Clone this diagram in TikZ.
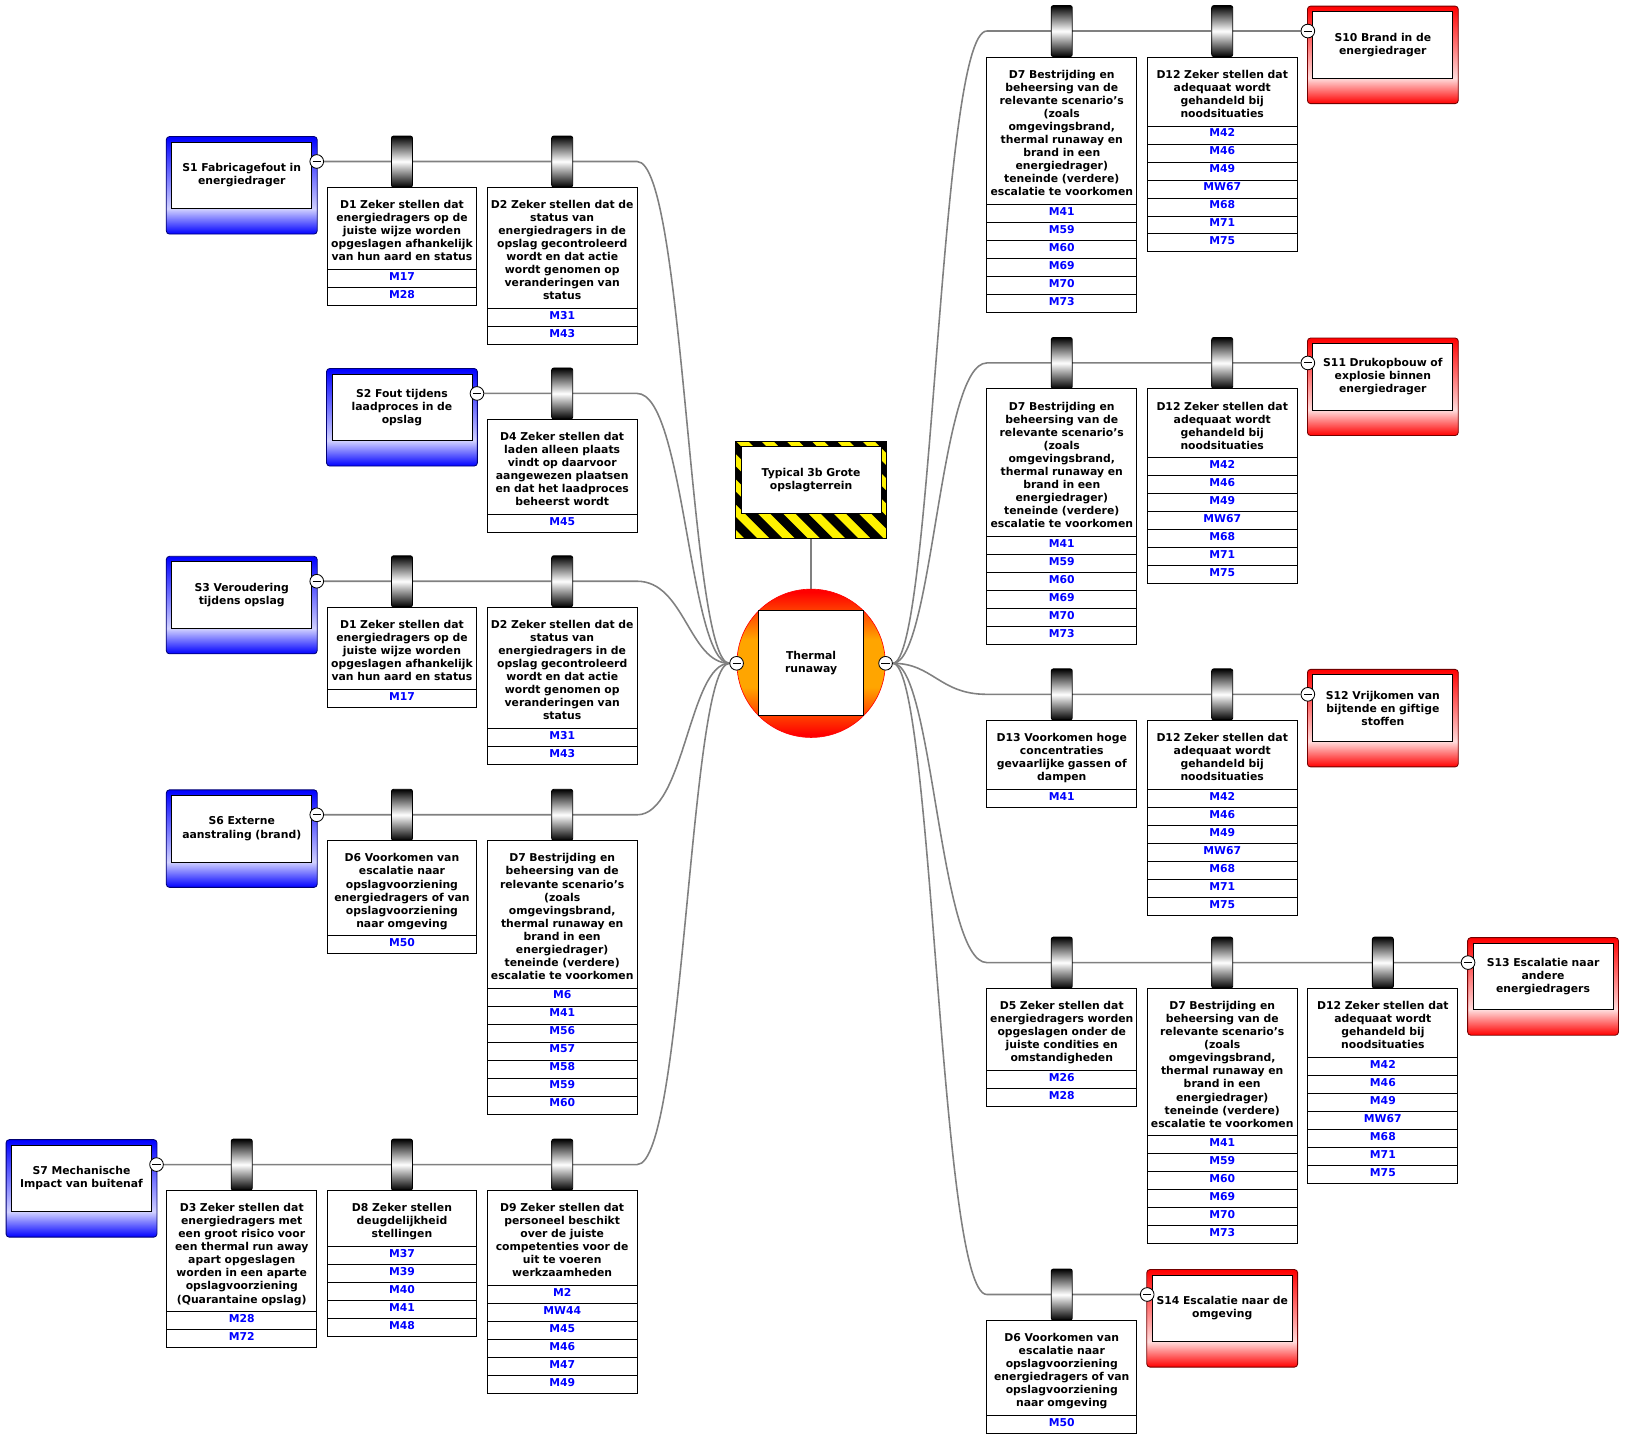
\documentclass[tikz,border=0pt]{standalone}
\usepackage{fontspec}
\setmainfont{DejaVu Sans}
\usetikzlibrary{positioning}
\usetikzlibrary{backgrounds}
\usetikzlibrary{calc}

\definecolor{evorange}{RGB}{255,165,0}
\pgfdeclareverticalshading{threatshade}{100bp}{color(0bp)=(blue); color(25bp)=(blue); color(38bp)=(blue!18); color(75bp)=(blue); color(100bp)=(blue)}
\pgfdeclareverticalshading{consshade}{100bp}{color(0bp)=(red); color(25bp)=(red); color(38bp)=(red!14); color(75bp)=(red); color(100bp)=(red)}
\pgfdeclareverticalshading{eventshade}{100bp}{color(0bp)=(red); color(26bp)=(red); color(42bp)=(evorange); color(58bp)=(evorange); color(74bp)=(red); color(100bp)=(red)}

\tikzset{
  every node/.style={font=\fontsize{10.3}{12.4}\selectfont\bfseries},
  link/.style={draw=gray, line width=1.5pt},
  minuscirc/.style={circle, draw, fill=white, line width=0.8pt, inner sep=0pt, minimum size=13pt,
    path picture={\draw[line width=0.9pt] ([xshift=2.6pt]path picture bounding box.west) -- ([xshift=-2.6pt]path picture bounding box.east);}},
  sbox/.style={draw, fill=white, line width=0.8pt, minimum width=133pt, minimum height=63.4pt,
    text width=131pt, inner sep=1pt, align=center},
  threatouter/.style={shade, shading=threatshade, draw=blue!45!black, line width=0.8pt, rounded corners=3pt},
  consouter/.style={shade, shading=consshade, draw=red!45!black, line width=0.8pt, rounded corners=3pt},
  barrier/.style={draw, fill=white, line width=0.9pt, anchor=north, text width=140.5pt, inner xsep=1pt,
    inner ysep=0pt, outer sep=0pt, align=center,
    execute at begin node={\rule{0pt}{20.1pt}}, execute at end node={\rule[-8.3pt]{0pt}{8.3pt}}},
  measure/.style={draw, fill=white, line width=0.9pt, text=blue, minimum width=142.5pt, minimum height=17.1pt,
    inner sep=0pt, outer sep=0pt, text height=7.6pt, text depth=4pt, below=0pt of #1},
  widget/.style={draw, line width=0.8pt, minimum width=20pt, minimum height=48.5pt, inner sep=0pt,
    rounded corners=2pt, top color=black, bottom color=black, middle color=white, above=0pt of #1},
  eventcirc/.style={circle, minimum size=141pt, inner sep=0pt, draw=red, line width=0.6pt,
    shade, shading=eventshade},
  topev/.style={draw, fill=white, line width=0.9pt, minimum size=100pt, text width=96pt, inner sep=2pt, align=center}
}

\begin{document}
\begin{tikzpicture}[x=1pt, y=-1pt]
  \useasboundingbox (0,0) rectangle (1565.6,1382.1);

  % top event and hazard
  \node[eventcirc] (ev) at (771,630.5) {};
  \node[topev] (te) at (ev) {Thermal\\runaway};
  \node[minuscirc] (lc) at (ev.west) {};
  \node[minuscirc] (rc) at (ev.east) {};
  \node[sbox] (haz) at (771,456.3) {Typical 3b Grote\\opslagterrein};

  % threats
  \node[sbox] (s1) at (229.8,166.7) {S1 Fabricagefout in\\energiedrager};
  \node[sbox] (s2) at (382.1,387.2) {S2 Fout tijdens\\laadproces in de\\opslag};
  \node[sbox] (s3) at (229.8,565.7) {S3 Veroudering\\tijdens opslag};
  \node[sbox] (s6) at (229.8,787.7) {S6 Externe\\aanstraling (brand)};
  \node[sbox] (s7) at (77.5,1120.2) {S7 Mechanische\\Impact van buitenaf};
  \node[minuscirc] (m-s1) at (301.1,153.5) {};
  \node[minuscirc] (m-s2) at (453.4,374) {};
  \node[minuscirc] (m-s3) at (301.1,552.5) {};
  \node[minuscirc] (m-s6) at (301.1,774.5) {};
  \node[minuscirc] (m-s7) at (148.8,1107) {};

  % consequences
  \node[sbox] (s10) at (1314.5,42.7) {S10 Brand in de\\energiedrager};
  \node[sbox] (s11) at (1314.5,358.2) {S11 Drukopbouw of\\explosie binnen\\energiedrager};
  \node[sbox] (s12) at (1314.5,673.2) {S12 Vrijkomen van\\bijtende en giftige\\stoffen};
  \node[sbox] (s13) at (1466.8,928.2) {S13 Escalatie naar\\andere\\energiedragers};
  \node[sbox] (s14) at (1161.8,1243.7) {S14 Escalatie naar de\\omgeving};
  \node[minuscirc] (m-s10) at (1243.2,29.5) {};
  \node[minuscirc] (m-s11) at (1243.2,345) {};
  \node[minuscirc] (m-s12) at (1243.2,660) {};
  \node[minuscirc] (m-s13) at (1395.5,915) {};
  \node[minuscirc] (m-s14) at (1090.5,1230.5) {};

  % barriers left
  \node[barrier, alias=d1a-0] (d1a) at (382.1,178.2) {D1 Zeker stellen dat\\energiedragers op de\\juiste wijze worden\\opgeslagen afhankelijk\\van hun aard en status};
  \node[widget=d1a] (w-d1a) {};
  \foreach \m [count=\i] in {M17,M28} {\pgfmathtruncatemacro\mprev{\i-1}\node[measure=d1a-\mprev] (d1a-\i) {\m};}

  \node[barrier, alias=d2a-0] (d2a) at (534.4,178.2) {D2 Zeker stellen dat de\\status van\\energiedragers in de\\opslag gecontroleerd\\wordt en dat actie\\wordt genomen op\\veranderingen van\\status};
  \node[widget=d2a] (w-d2a) {};
  \foreach \m [count=\i] in {M31,M43} {\pgfmathtruncatemacro\mprev{\i-1}\node[measure=d2a-\mprev] (d2a-\i) {\m};}

  \node[barrier, alias=d4-0] (d4) at (534.4,398.7) {D4 Zeker stellen dat\\laden alleen plaats\\vindt op daarvoor\\aangewezen plaatsen\\en dat het laadproces\\beheerst wordt};
  \node[widget=d4] (w-d4) {};
  \foreach \m [count=\i] in {M45} {\pgfmathtruncatemacro\mprev{\i-1}\node[measure=d4-\mprev] (d4-\i) {\m};}

  \node[barrier, alias=d1b-0] (d1b) at (382.1,577.2) {D1 Zeker stellen dat\\energiedragers op de\\juiste wijze worden\\opgeslagen afhankelijk\\van hun aard en status};
  \node[widget=d1b] (w-d1b) {};
  \foreach \m [count=\i] in {M17} {\pgfmathtruncatemacro\mprev{\i-1}\node[measure=d1b-\mprev] (d1b-\i) {\m};}

  \node[barrier, alias=d2b-0] (d2b) at (534.4,577.2) {D2 Zeker stellen dat de\\status van\\energiedragers in de\\opslag gecontroleerd\\wordt en dat actie\\wordt genomen op\\veranderingen van\\status};
  \node[widget=d2b] (w-d2b) {};
  \foreach \m [count=\i] in {M31,M43} {\pgfmathtruncatemacro\mprev{\i-1}\node[measure=d2b-\mprev] (d2b-\i) {\m};}

  \node[barrier, alias=d6a-0] (d6a) at (382.1,799.2) {D6 Voorkomen van\\escalatie naar\\opslagvoorziening\\energiedragers of van\\opslagvoorziening\\naar omgeving};
  \node[widget=d6a] (w-d6a) {};
  \foreach \m [count=\i] in {M50} {\pgfmathtruncatemacro\mprev{\i-1}\node[measure=d6a-\mprev] (d6a-\i) {\m};}

  \node[barrier, alias=d7a-0] (d7a) at (534.4,799.2) {D7 Bestrijding en\\beheersing van de\\relevante scenario’s\\(zoals\\omgevingsbrand,\\thermal runaway en\\brand in een\\energiedrager)\\teneinde (verdere)\\escalatie te voorkomen};
  \node[widget=d7a] (w-d7a) {};
  \foreach \m [count=\i] in {M6,M41,M56,M57,M58,M59,M60} {\pgfmathtruncatemacro\mprev{\i-1}\node[measure=d7a-\mprev] (d7a-\i) {\m};}

  \node[barrier, alias=d3-0] (d3) at (229.8,1131.7) {D3 Zeker stellen dat\\energiedragers met\\een groot risico voor\\een thermal run away\\apart opgeslagen\\worden in een aparte\\opslagvoorziening\\(Quarantaine opslag)};
  \node[widget=d3] (w-d3) {};
  \foreach \m [count=\i] in {M28,M72} {\pgfmathtruncatemacro\mprev{\i-1}\node[measure=d3-\mprev] (d3-\i) {\m};}

  \node[barrier, alias=d8-0] (d8) at (382.1,1131.7) {D8 Zeker stellen\\deugdelijkheid\\stellingen};
  \node[widget=d8] (w-d8) {};
  \foreach \m [count=\i] in {M37,M39,M40,M41,M48} {\pgfmathtruncatemacro\mprev{\i-1}\node[measure=d8-\mprev] (d8-\i) {\m};}

  \node[barrier, alias=d9-0] (d9) at (534.4,1131.7) {D9 Zeker stellen dat\\personeel beschikt\\over de juiste\\competenties voor de\\uit te voeren\\werkzaamheden};
  \node[widget=d9] (w-d9) {};
  \foreach \m [count=\i] in {M2,MW44,M45,M46,M47,M49} {\pgfmathtruncatemacro\mprev{\i-1}\node[measure=d9-\mprev] (d9-\i) {\m};}

  % barriers right
  \node[barrier, alias=d7b-0] (d7b) at (1009.3,54.2) {D7 Bestrijding en\\beheersing van de\\relevante scenario’s\\(zoals\\omgevingsbrand,\\thermal runaway en\\brand in een\\energiedrager)\\teneinde (verdere)\\escalatie te voorkomen};
  \node[widget=d7b] (w-d7b) {};
  \foreach \m [count=\i] in {M41,M59,M60,M69,M70,M73} {\pgfmathtruncatemacro\mprev{\i-1}\node[measure=d7b-\mprev] (d7b-\i) {\m};}

  \node[barrier, alias=d12a-0] (d12a) at (1161.8,54.2) {D12 Zeker stellen dat\\adequaat wordt\\gehandeld bij\\noodsituaties};
  \node[widget=d12a] (w-d12a) {};
  \foreach \m [count=\i] in {M42,M46,M49,MW67,M68,M71,M75} {\pgfmathtruncatemacro\mprev{\i-1}\node[measure=d12a-\mprev] (d12a-\i) {\m};}

  \node[barrier, alias=d7c-0] (d7c) at (1009.3,369.7) {D7 Bestrijding en\\beheersing van de\\relevante scenario’s\\(zoals\\omgevingsbrand,\\thermal runaway en\\brand in een\\energiedrager)\\teneinde (verdere)\\escalatie te voorkomen};
  \node[widget=d7c] (w-d7c) {};
  \foreach \m [count=\i] in {M41,M59,M60,M69,M70,M73} {\pgfmathtruncatemacro\mprev{\i-1}\node[measure=d7c-\mprev] (d7c-\i) {\m};}

  \node[barrier, alias=d12b-0] (d12b) at (1161.8,369.7) {D12 Zeker stellen dat\\adequaat wordt\\gehandeld bij\\noodsituaties};
  \node[widget=d12b] (w-d12b) {};
  \foreach \m [count=\i] in {M42,M46,M49,MW67,M68,M71,M75} {\pgfmathtruncatemacro\mprev{\i-1}\node[measure=d12b-\mprev] (d12b-\i) {\m};}

  \node[barrier, alias=d13-0] (d13) at (1009.3,684.7) {D13 Voorkomen hoge\\concentraties\\gevaarlijke gassen of\\dampen};
  \node[widget=d13] (w-d13) {};
  \foreach \m [count=\i] in {M41} {\pgfmathtruncatemacro\mprev{\i-1}\node[measure=d13-\mprev] (d13-\i) {\m};}

  \node[barrier, alias=d12c-0] (d12c) at (1161.8,684.7) {D12 Zeker stellen dat\\adequaat wordt\\gehandeld bij\\noodsituaties};
  \node[widget=d12c] (w-d12c) {};
  \foreach \m [count=\i] in {M42,M46,M49,MW67,M68,M71,M75} {\pgfmathtruncatemacro\mprev{\i-1}\node[measure=d12c-\mprev] (d12c-\i) {\m};}

  \node[barrier, alias=d5-0] (d5) at (1009.3,939.7) {D5 Zeker stellen dat\\energiedragers worden\\opgeslagen onder de\\juiste condities en\\omstandigheden};
  \node[widget=d5] (w-d5) {};
  \foreach \m [count=\i] in {M26,M28} {\pgfmathtruncatemacro\mprev{\i-1}\node[measure=d5-\mprev] (d5-\i) {\m};}

  \node[barrier, alias=d7d-0] (d7d) at (1161.8,939.7) {D7 Bestrijding en\\beheersing van de\\relevante scenario’s\\(zoals\\omgevingsbrand,\\thermal runaway en\\brand in een\\energiedrager)\\teneinde (verdere)\\escalatie te voorkomen};
  \node[widget=d7d] (w-d7d) {};
  \foreach \m [count=\i] in {M41,M59,M60,M69,M70,M73} {\pgfmathtruncatemacro\mprev{\i-1}\node[measure=d7d-\mprev] (d7d-\i) {\m};}

  \node[barrier, alias=d12d-0] (d12d) at (1314.5,939.7) {D12 Zeker stellen dat\\adequaat wordt\\gehandeld bij\\noodsituaties};
  \node[widget=d12d] (w-d12d) {};
  \foreach \m [count=\i] in {M42,M46,M49,MW67,M68,M71,M75} {\pgfmathtruncatemacro\mprev{\i-1}\node[measure=d12d-\mprev] (d12d-\i) {\m};}

  \node[barrier, alias=d6b-0] (d6b) at (1009.3,1255.2) {D6 Voorkomen van\\escalatie naar\\opslagvoorziening\\energiedragers of van\\opslagvoorziening\\naar omgeving};
  \node[widget=d6b] (w-d6b) {};
  \foreach \m [count=\i] in {M50} {\pgfmathtruncatemacro\mprev{\i-1}\node[measure=d6b-\mprev] (d6b-\i) {\m};}

  \begin{scope}[on background layer]
    % lines to and from the top event
    \draw[link] (m-s1) -- (d2a.north east |- m-s1) .. controls +(45,0) and +(-45,0) .. (lc);
    \draw[link] (m-s2) -- (d4.north east |- m-s2) .. controls +(45,0) and +(-45,0) .. (lc);
    \draw[link] (m-s3) -- (d2b.north east |- m-s3) .. controls +(45,0) and +(-45,0) .. (lc);
    \draw[link] (m-s6) -- (d7a.north east |- m-s6) .. controls +(45,0) and +(-45,0) .. (lc);
    \draw[link] (m-s7) -- (d9.north east |- m-s7) .. controls +(45,0) and +(-45,0) .. (lc);
    \draw[link] (rc) .. controls +(45,0) and +(-45,0) .. (d7b.north west |- m-s10) -- (m-s10);
    \draw[link] (rc) .. controls +(45,0) and +(-45,0) .. (d7c.north west |- m-s11) -- (m-s11);
    \draw[link] (rc) .. controls +(45,0) and +(-45,0) .. (d13.north west |- m-s12) -- (m-s12);
    \draw[link] (rc) .. controls +(45,0) and +(-45,0) .. (d5.north west |- m-s13) -- (m-s13);
    \draw[link] (rc) .. controls +(45,0) and +(-45,0) .. (d6b.north west |- m-s14) -- (m-s14);
    \draw[link] (haz) -- (ev);

    \foreach \s in {s1,s2,s3,s6,s7}
      \path[threatouter] ($(\s.north west)+(-4.8,-4.8)$) rectangle ($(\s.south east)+(4.8,23.7)$);
    \foreach \s in {s10,s11,s12,s13,s14}
      \path[consouter] ($(\s.north west)+(-4.8,-4.8)$) rectangle ($(\s.south east)+(4.8,23.7)$);

    % hazard frame
    \coordinate (hz-nw) at ($(haz.north west)+(-4.8,-4.8)$);
    \coordinate (hz-se) at ($(haz.south east)+(4.8,23.7)$);
    \fill[yellow] (hz-nw) rectangle (hz-se);
    \begin{scope}
      \clip (hz-nw) rectangle (hz-se);
      \foreach \x in {590,614,...,854}
        \fill[black] (\x,418) -- ++(12,0) -- ++(96,96) -- ++(-12,0) -- cycle;
    \end{scope}
    \draw[line width=0.8pt] (hz-nw) rectangle (hz-se);
  \end{scope}
\end{tikzpicture}
\end{document}
